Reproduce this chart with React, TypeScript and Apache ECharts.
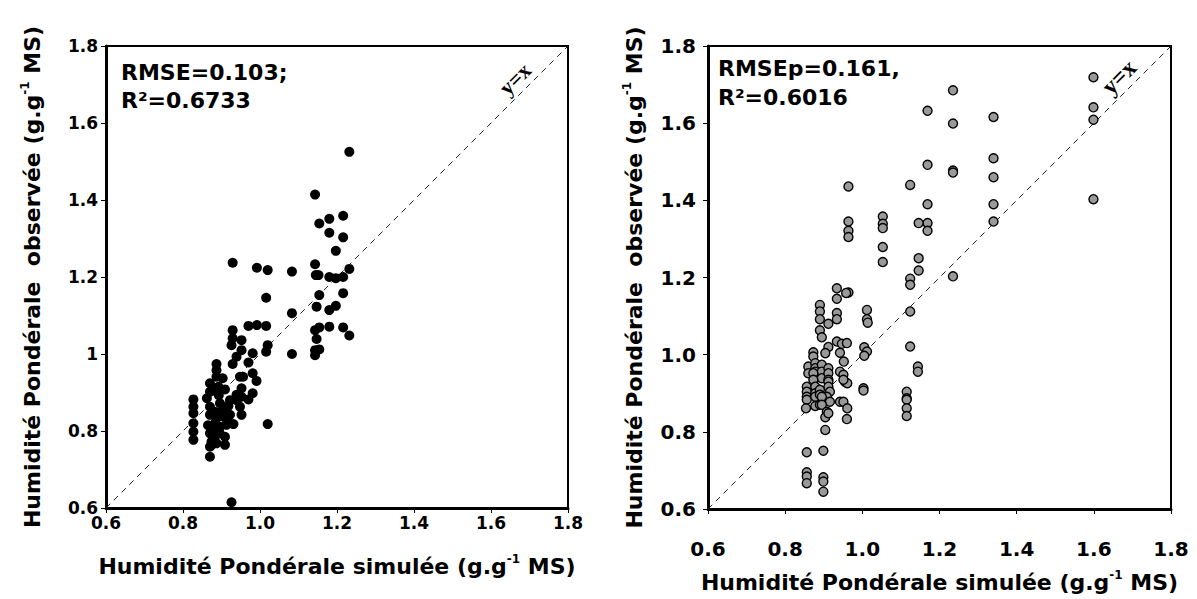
import React, { useEffect, useRef } from 'react';
import * as echarts from 'echarts';

// Left panel: observed vs simulated (calibration)
const leftPoints: [number, number][] = [
  [1.232, 1.525], [1.143, 1.414], [1.154, 1.339], [1.180, 1.351], [1.216, 1.359], [1.180, 1.315], [1.216, 1.303], [1.197, 1.268],
  [0.929, 1.237], [0.992, 1.224], [1.020, 1.218], [1.083, 1.214], [1.143, 1.233], [1.145, 1.205], [1.152, 1.205],
  [1.180, 1.200], [1.197, 1.197], [1.216, 1.200], [1.232, 1.221],
  [1.016, 1.146], [1.154, 1.153], [1.216, 1.158], [1.083, 1.106], [1.147, 1.123], [1.180, 1.114], [1.197, 1.125],
  [0.929, 1.062], [0.970, 1.073], [0.992, 1.075], [1.016, 1.073],
  [1.143, 1.062], [1.154, 1.069], [1.180, 1.071], [1.216, 1.069], [1.232, 1.048], [1.147, 1.039],
  [1.083, 1.000], [1.143, 0.997], [1.154, 1.012], [1.143, 1.010],
  [0.929, 1.041], [0.926, 1.023], [0.952, 1.036],
  [1.020, 1.023], [1.016, 1.006], [0.981, 1.002], [0.952, 1.010], [0.939, 0.993],
  [0.970, 0.978], [0.929, 0.974], [0.887, 0.974], [0.887, 0.958], [0.887, 0.941], [0.903, 0.937],
  [0.948, 0.941], [0.956, 0.941], [0.981, 0.950], [0.991, 0.930],
  [0.870, 0.924], [0.870, 0.902], [0.892, 0.915], [0.909, 0.908],
  [0.952, 0.911], [0.939, 0.894], [0.952, 0.889], [0.981, 0.898], [0.970, 0.882],
  [0.922, 0.880], [0.948, 0.863], [0.939, 0.880], [0.952, 0.842],
  [0.827, 0.882], [0.827, 0.863], [0.827, 0.846], [0.827, 0.820], [0.827, 0.798], [0.827, 0.777],
  [0.870, 0.863], [0.883, 0.850], [0.896, 0.872], [0.905, 0.859], [0.918, 0.865],
  [0.870, 0.842], [0.887, 0.833], [0.905, 0.837], [0.922, 0.842],
  [0.883, 0.820], [0.896, 0.811], [0.913, 0.816], [0.931, 0.818],
  [0.870, 0.794], [0.883, 0.785], [0.874, 0.772], [0.870, 0.759], [0.887, 0.768], [0.909, 0.785], [0.909, 0.764],
  [0.870, 0.733], [1.020, 0.818], [0.926, 0.615],
  [0.876, 0.905], [0.893, 0.893], [0.900, 0.850], [0.915, 0.828], [0.878, 0.803], [0.865, 0.815], [0.895, 0.795],
  [0.862, 0.885], [0.874, 0.764],
];

// Right panel: observed vs simulated (validation)
const rightPoints: [number, number][] = [
  [1.599, 1.719], [1.599, 1.641], [1.599, 1.609], [1.599, 1.403],
  [1.235, 1.685], [1.235, 1.599], [1.235, 1.477], [1.235, 1.472], [1.235, 1.203],
  [1.169, 1.632], [1.169, 1.492], [1.169, 1.390], [1.169, 1.341], [1.169, 1.321],
  [1.146, 1.341], [1.146, 1.250], [1.146, 1.218],
  [1.124, 1.440], [1.124, 1.197], [1.124, 1.181], [1.124, 1.112], [1.124, 1.021],
  [1.340, 1.616], [1.340, 1.509], [1.340, 1.460], [1.340, 1.390], [1.340, 1.345],
  [1.053, 1.358], [1.053, 1.339], [1.053, 1.328], [1.053, 1.279], [1.053, 1.240],
  [0.964, 1.436], [0.964, 1.345], [0.964, 1.321], [0.964, 1.305],
  [0.934, 1.172], [0.934, 1.145], [0.964, 1.161], [0.958, 1.160],
  [0.934, 1.108], [0.934, 1.092],
  [0.890, 1.129], [0.890, 1.112], [0.890, 1.092], [0.912, 1.080], [0.890, 1.063], [0.895, 1.045],
  [1.012, 1.116], [1.012, 1.092], [1.014, 1.083],
  [0.934, 1.034], [0.947, 1.028], [0.960, 1.030],
  [0.912, 1.020], [0.904, 1.004], [0.873, 1.006], [0.873, 0.995], [0.942, 1.005],
  [1.005, 1.019], [1.012, 1.008], [1.005, 0.997],
  [0.952, 0.982],
  [0.860, 0.969], [0.860, 0.952], [0.878, 0.978], [0.878, 0.965], [0.878, 0.956], [0.878, 0.939],
  [0.895, 0.974], [0.895, 0.956], [0.895, 0.939], [0.873, 0.952], [0.873, 0.935],
  [0.912, 0.965], [0.912, 0.952], [0.912, 0.935], [0.912, 0.930], [0.912, 0.917],
  [0.942, 0.956], [0.951, 0.948], [0.955, 0.930], [0.961, 0.926], [0.951, 0.935],
  [1.144, 0.969], [1.144, 0.956],
  [0.856, 0.917], [0.856, 0.904], [0.856, 0.891], [0.856, 0.883], [0.854, 0.861],
  [0.878, 0.917], [0.878, 0.900], [0.878, 0.891], [0.878, 0.867],
  [0.890, 0.909], [0.890, 0.896], [0.890, 0.870],
  [0.916, 0.904], [0.908, 0.891], [0.895, 0.891], [0.916, 0.878], [0.895, 0.870],
  [0.908, 0.852], [0.904, 0.838], [0.912, 0.848],
  [0.942, 0.878], [0.951, 0.878], [0.961, 0.861], [0.960, 0.833],
  [1.003, 0.913], [1.003, 0.907],
  [1.115, 0.904], [1.115, 0.887], [1.115, 0.883], [1.115, 0.861], [1.115, 0.841],
  [0.904, 0.805], [0.856, 0.747], [0.899, 0.751],
  [0.856, 0.695], [0.856, 0.684], [0.856, 0.667], [0.899, 0.682], [0.899, 0.671], [0.899, 0.645],
];

const axisMin = 0.6;
const axisMax = 1.8;
const axisStep = 0.2;
const identityLine: [number, number][] = [[0.6, 0.6], [1.8, 1.8]];

const leftStats = 'RMSE=0.103;\nR²=0.6733';
const rightStats = 'RMSEp=0.161,\nR²=0.6016';
const identityLabel = 'y=x';
const xTitle = '{n|Humidité Pondérale simulée (g.g}{s|-1}{n| MS)}';
const yTitle = '{n|Humidité Pondérale  observée (g.g}{s|-1}{n| MS)}';

const FONT = 'DejaVu Sans, Verdana, sans-serif';
const SERIF = 'Liberation Serif, Times New Roman, serif';

function nameStyle(size: number) {
  return {
    color: '#000',
    fontFamily: FONT,
    fontWeight: 'bold',
    fontSize: size,
    rich: {
      n: { fontFamily: FONT, fontWeight: 'bold', fontSize: size, lineHeight: size + 5, color: '#000' },
      s: { fontFamily: FONT, fontWeight: 'bold', fontSize: Math.round(size * 0.55), lineHeight: Math.round(size * 0.6), verticalAlign: 'top', color: '#000' },
    },
  };
}

function makeAxis(
  kind: 'x' | 'y',
  gridIndex: number,
  opts: { labelSize: number; labelMargin: number; nameGap: number; nameSize: number; oneAsInt: boolean }
) {
  return {
    type: 'value',
    gridIndex,
    min: axisMin,
    max: axisMax,
    interval: axisStep,
    name: kind === 'x' ? xTitle : yTitle,
    nameLocation: 'middle',
    nameGap: opts.nameGap,
    nameRotate: kind === 'y' ? 90 : 0,
    nameTextStyle: nameStyle(opts.nameSize),
    splitLine: { show: false },
    axisLine: { show: true, onZero: false, lineStyle: { color: '#000', width: 3 } },
    axisTick: { show: true, inside: false, length: 5, lineStyle: { color: '#000', width: 1 } },
    axisLabel: {
      color: '#000',
      fontFamily: FONT,
      fontWeight: 'bold',
      fontSize: opts.labelSize,
      margin: opts.labelMargin,
      formatter: (v: number) => (opts.oneAsInt && Math.abs(v - 1) < 1e-9 ? '1' : v.toFixed(1)),
    },
  };
}

export default function App() {
  const ref = useRef<HTMLDivElement>(null);
  useEffect(() => {
    document.body.style.margin = '0';
    const chart = echarts.init(ref.current as HTMLDivElement, null, { renderer: 'svg' });
    chart.setOption({
      animation: false,
      backgroundColor: '#fff',
      grid: [
        { left: 106, top: 46, width: 462, height: 462, show: true, borderColor: '#000', borderWidth: 2, backgroundColor: 'transparent' },
        { left: 708, top: 46, width: 463, height: 463, show: true, borderColor: '#000', borderWidth: 2, backgroundColor: 'transparent' },
      ],
      xAxis: [
        makeAxis('x', 0, { labelSize: 17, labelMargin: 6, nameGap: 45, nameSize: 22, oneAsInt: false }),
        makeAxis('x', 1, { labelSize: 20, labelMargin: 30, nameGap: 60, nameSize: 22, oneAsInt: false }),
      ],
      yAxis: [
        makeAxis('y', 0, { labelSize: 17, labelMargin: 8, nameGap: 60, nameSize: 22, oneAsInt: true }),
        makeAxis('y', 1, { labelSize: 20, labelMargin: 12, nameGap: 60, nameSize: 22, oneAsInt: false }),
      ],
      series: [
        {
          type: 'line', xAxisIndex: 0, yAxisIndex: 0, data: identityLine, showSymbol: false, silent: true,
          lineStyle: { color: '#222', width: 1, type: [6, 5] }, z: 1,
        },
        {
          type: 'line', xAxisIndex: 1, yAxisIndex: 1, data: identityLine, showSymbol: false, silent: true,
          lineStyle: { color: '#222', width: 1, type: [6, 5] }, z: 1,
        },
        {
          type: 'scatter', xAxisIndex: 0, yAxisIndex: 0, data: leftPoints, symbol: 'circle', symbolSize: 10,
          itemStyle: { color: '#000', opacity: 1 }, z: 3,
        },
        {
          type: 'scatter', xAxisIndex: 1, yAxisIndex: 1, data: rightPoints, symbol: 'circle', symbolSize: 9,
          itemStyle: { color: '#999999', borderColor: '#000', borderWidth: 1.4, opacity: 1 }, z: 3,
        },
      ],
      graphic: [
        {
          type: 'text', left: 121, top: 58, z: 10,
          style: { text: leftStats, fontFamily: FONT, fontWeight: 'bold', fontSize: 22, lineHeight: 28, fill: '#000' },
        },
        {
          type: 'text', left: 718, top: 54, z: 10,
          style: { text: rightStats, fontFamily: FONT, fontWeight: 'bold', fontSize: 22, lineHeight: 29, fill: '#000' },
        },
        {
          type: 'text', x: 515, y: 79, rotation: Math.PI / 4, z: 10,
          style: { text: identityLabel, fontFamily: SERIF, fontWeight: 'bold', fontSize: 22, fill: '#000', align: 'center', verticalAlign: 'middle' },
        },
        {
          type: 'text', x: 1119, y: 77, rotation: Math.PI / 4, z: 10,
          style: { text: identityLabel, fontFamily: SERIF, fontWeight: 'bold', fontSize: 24, fill: '#000', align: 'center', verticalAlign: 'middle' },
        },
      ],
    });
    return () => chart.dispose();
  }, []);
  return <div ref={ref} style={{ width: 1197, height: 599 }} />;
}
